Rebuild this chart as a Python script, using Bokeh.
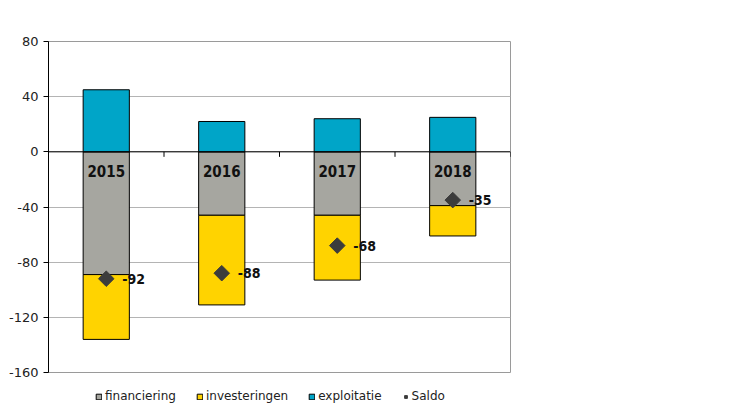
from bokeh.plotting import figure
from bokeh.layouts import column
from bokeh.models import (FactorRange, Range1d, FixedTicker, Span,
                          ColumnDataSource, Legend, LegendItem)
from bokeh.transform import dodge
from bokeh.core.properties import value
from bokeh.embed import file_html
from bokeh.resources import INLINE

years = ["2015", "2016", "2017", "2018"]
financiering = [-89, -46, -46, -39]
investeringen = [-47, -65, -47, -22]
exploitatie = [45, 22, 24, 25]
saldo = [-92, -88, -68, -35]
y_ticks = [-160, -120, -80, -40, 0, 40, 80]
series_names = ["financiering", "investeringen", "exploitatie", "Saldo"]

C_FIN = "#A6A6A0"
C_INV = "#FFD300"
C_EXP = "#00A5C8"
C_SAL = "#3C3C3C"
FONT = "DejaVu Sans"
FONT_C = "DejaVu Sans Condensed"

FRAME_W, FRAME_H = 462, 331
Y0, Y1 = -160, 80
tick_len = 5 * (Y1 - Y0) / FRAME_H

inv_top = financiering
inv_bot = [f + i for f, i in zip(financiering, investeringen)]
src = ColumnDataSource(dict(
    year=years, fin=financiering, zero=[0] * len(years),
    tick_end=[-tick_len] * len(years),
    inv_top=inv_top, inv_bot=inv_bot, exp=exploitatie,
    saldo=saldo, lbl=[str(s) for s in saldo],
))

p = figure(x_range=FactorRange(*years), y_range=Range1d(Y0, Y1),
           frame_width=FRAME_W, frame_height=FRAME_H,
           min_border_left=48, min_border_top=41, min_border_right=200, min_border_bottom=8,
           output_backend="svg", toolbar_location=None, x_axis_location=None)
p.background_fill_color = "white"
p.outline_line_color = "#9a9a9a"

bar_style = dict(width=0.4, line_color="black", line_width=1)
p.vbar(x="year", top="zero", bottom="fin", source=src, fill_color=C_FIN, **bar_style)
p.vbar(x="year", top="inv_top", bottom="inv_bot", source=src, fill_color=C_INV, **bar_style)
p.vbar(x="year", top="exp", bottom="zero", source=src, fill_color=C_EXP, **bar_style)

# zero line with tick marks between categories
p.add_layout(Span(location=0, dimension="width", line_color="black", line_width=1))
bx = dodge("year", 0.5, range=p.x_range)
p.segment(x0=bx, x1=bx, y0="zero", y1="tick_end", source=src, line_color="black", line_width=1)

# category labels just below the zero line
p.text(x="year", y="zero", text="year", source=src, y_offset=19, text_baseline="middle",
       text_align="center", text_font=value(FONT_C), text_font_style="bold",
       text_font_size="15px", text_color="#111111")

p.scatter(x="year", y="saldo", source=src, marker="square", size=11, angle=0.785,
          fill_color=C_SAL, line_color=C_SAL)
p.text(x="year", y="saldo", text="lbl", source=src, x_offset=16, text_baseline="middle",
       text_align="left", text_font=value(FONT_C), text_font_style="bold",
       text_font_size="14px", text_color="#111111")

p.yaxis.ticker = FixedTicker(ticks=y_ticks)
p.yaxis.major_label_overrides = {t: str(t) for t in y_ticks}
p.yaxis.major_label_text_font = FONT
p.yaxis.major_label_text_font_size = "13px"
p.yaxis.major_label_text_color = "#222222"
p.yaxis.axis_line_color = "black"
p.yaxis.major_tick_line_color = "black"
p.yaxis.major_tick_out = 5
p.yaxis.major_tick_in = 0
p.yaxis.minor_tick_line_color = None
p.ygrid.ticker = FixedTicker(ticks=y_ticks)
p.ygrid.grid_line_color = "#b4b4b4"
p.xgrid.visible = False

# legend strip below the chart (its renderers use the real data, kept out of view)
LEG_H = 36
lf = figure(width=48 + FRAME_W + 200, height=LEG_H, x_range=FactorRange(*years),
            y_range=Range1d(5000, 5001),
            min_border=0, output_backend="svg", toolbar_location=None,
            x_axis_location=None, y_axis_location=None)
lf.outline_line_color = None
lf.xgrid.visible = False
lf.ygrid.visible = False
lr = [
    lf.vbar(x="year", top="zero", bottom="fin", source=src, fill_color=C_FIN, **bar_style),
    lf.vbar(x="year", top="inv_top", bottom="inv_bot", source=src, fill_color=C_INV, **bar_style),
    lf.vbar(x="year", top="exp", bottom="zero", source=src, fill_color=C_EXP, **bar_style),
    lf.scatter(x="year", y="saldo", source=src, marker="square", size=6, angle=0.785,
               fill_color=C_SAL, line_color=C_SAL),
]
legend = Legend(items=[LegendItem(label=n, renderers=[r]) for n, r in zip(series_names, lr)],
                orientation="horizontal", location=(47, 10),
                border_line_color=None, background_fill_alpha=0,
                label_text_font=FONT, label_text_font_size="12px", label_text_color="#222222",
                glyph_width=7, glyph_height=7, spacing=20, padding=0, margin=0,
                label_standoff=3, label_height=20)
lf.add_layout(legend, "center")

layout = column(p, lf, spacing=0)
open("out.html", "w").write(file_html(layout, INLINE))
